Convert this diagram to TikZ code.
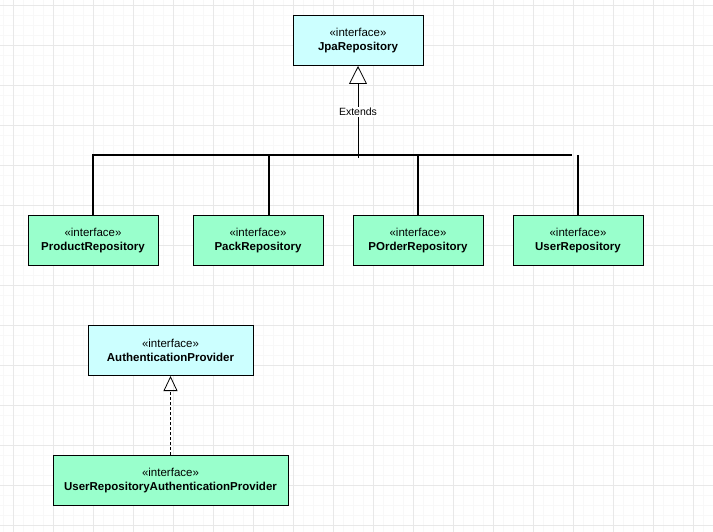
\documentclass[tikz,border=0pt]{standalone}
\usepackage{fontspec}
\setmainfont{Liberation Sans}
\usetikzlibrary{arrows.meta,calc}
\definecolor{ifcyan}{HTML}{CCFFFF}
\definecolor{ifgreen}{HTML}{99FFCC}
\definecolor{gridmajor}{HTML}{E8E8E8}
\definecolor{gridminor}{HTML}{F8F8F8}

\begin{document}
\begin{tikzpicture}[x=1pt,y=-1pt,
  iface/.style={draw=black, line width=1pt, minimum height=50pt, inner sep=0pt,
    align=center, font=\fontsize{11.5}{14}\selectfont},
  basebox/.style={iface, fill=ifcyan},
  derivedbox/.style={iface, fill=ifgreen},
  bus/.style={line width=2pt, line join=miter},
  gen/.style={line width=0.8pt, -{Triangle[open, length=18pt, width=18pt, line width=0.8pt]}},
  realize/.style={line width=0.8pt, dash pattern=on 3pt off 2pt,
    -{Triangle[open, length=15pt, width=14pt, line width=0.8pt]}},
  tag/.style={fill=white, inner sep=1.5pt, font=\fontsize{10.5}{12}\selectfont}
]
% canvas and background grid
\useasboundingbox (0,0) rectangle (713,532);
\fill[white] (0,0) rectangle (713,532);
\foreach \gx in {3,13,...,713} \draw[gridminor, line width=0.8pt] (\gx,0) -- (\gx,532);
\foreach \gy in {5,15,...,532} \draw[gridminor, line width=0.8pt] (0,\gy) -- (713,\gy);
\foreach \gx in {13,53,...,713} \draw[gridmajor, line width=0.8pt] (\gx,0) -- (\gx,532);
\foreach \gy in {5,45,...,532} \draw[gridmajor, line width=0.8pt] (0,\gy) -- (713,\gy);

% interfaces
\node[basebox, minimum width=130pt] (jpa) at (358,40.5) {«interface»\\\textbf{JpaRepository}};
\node[derivedbox, minimum width=130pt] (prod) at (93,240.5) {«interface»\\\textbf{ProductRepository}};
\node[derivedbox, minimum width=130pt] (pack) at (258,240.5) {«interface»\\\textbf{PackRepository}};
\node[derivedbox, minimum width=130pt] (porder) at (418,240.5) {«interface»\\\textbf{POrderRepository}};
\node[derivedbox, minimum width=130pt] (user) at (578,240.5) {«interface»\\\textbf{UserRepository}};
\node[basebox, minimum width=165pt] (auth) at (170.5,350.5) {«interface»\\\textbf{AuthenticationProvider}};
\node[derivedbox, minimum width=235pt] (userauth) at (170.5,480.5) {«interface»\\\textbf{UserRepositoryAuthenticationProvider}};

% generalisation tree
\coordinate (barend) at (572,155);
\coordinate (stem) at (358,158);
\coordinate (packtap) at (269,155);
\coordinate (usertap) at (578,155);
\draw[bus] (prod.north) |- (barend);
\draw[bus] (packtap) -- (packtap |- pack.north);
\draw[bus] (porder.north) -- (porder.north |- barend);
\draw[bus] (usertap) -- (usertap |- user.north);
\draw[gen] (stem) -- node[tag, pos=0.5] {Extends} (jpa.south);

% realisation
\draw[realize] (userauth.north) -- (auth.south);
\end{tikzpicture}
\end{document}
